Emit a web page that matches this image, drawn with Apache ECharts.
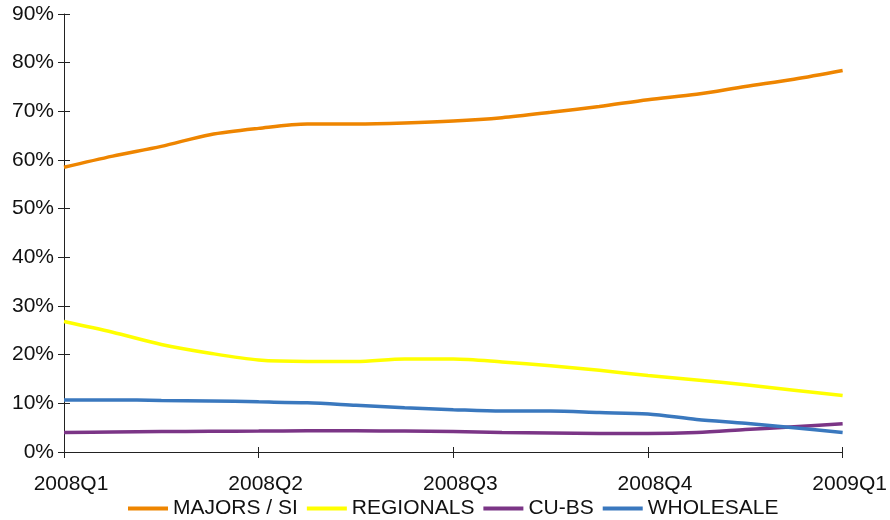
<!DOCTYPE html>
<html>
<head>
<meta charset="utf-8">
<script src="https://cdn.jsdelivr.net/npm/echarts@6/dist/echarts.min.js"></script>
<style>
  html, body { margin: 0; padding: 0; background: #fff; }
  #chart { width: 890px; height: 520px; }
</style>
</head>
<body>
<div id="chart"></div>
<script>
// Sample points: four per quarter, labelled at each quarter start
const categories = [
  '2008Q1', '', '', '',
  '2008Q2', '', '', '',
  '2008Q3', '', '', '',
  '2008Q4', '', '', '',
  '2009Q1'
];
const quarterLabels = ['2008Q1', '2008Q2', '2008Q3', '2008Q4', '2009Q1'];

// Share of total (%)
const majorsSi  = [58.5, 60.8, 62.8, 65.2, 66.5, 67.4, 67.4, 67.6, 68.0, 68.7, 69.8, 71.0, 72.4, 73.5, 75.1, 76.6, 78.4];
const regionals = [26.8, 24.6, 22.1, 20.3, 18.9, 18.6, 18.6, 19.1, 19.1, 18.5, 17.7, 16.8, 15.7, 14.8, 13.8, 12.7, 11.6];
const cuBs      = [4.0, 4.1, 4.2, 4.25, 4.3, 4.35, 4.35, 4.3, 4.2, 4.0, 3.9, 3.8, 3.8, 4.0, 4.6, 5.2, 5.8];
const wholesale = [10.7, 10.7, 10.6, 10.5, 10.3, 10.1, 9.6, 9.1, 8.7, 8.4, 8.4, 8.1, 7.8, 6.7, 5.9, 5.0, 4.0];

const seriesNames = ['MAJORS / SI', 'REGIONALS', 'CU-BS', 'WHOLESALE'];
const seriesColors = ['#EE8500', '#FFFF00', '#7B3586', '#3A78BE'];
const seriesData = [majorsSi, regionals, cuBs, wholesale];

const axisColor = '#222';
const textColor = '#111';
const fontFamily = 'Liberation Sans, Arial, sans-serif';
const fontSize = 21;

const isQuarter = (i) => i % 4 === 0;

const chart = echarts.init(document.getElementById('chart'));
chart.setOption({
  animation: false,
  backgroundColor: '#fff',
  grid: { left: 64, right: 43, top: 14, bottom: 68, containLabel: false },
  legend: {
    top: 493,
    left: 123,
    itemWidth: 40,
    itemHeight: 4,
    itemGap: 9,
    icon: 'rect',
    textStyle: { fontSize: fontSize, color: textColor, fontFamily: fontFamily },
    data: seriesNames
  },
  xAxis: [
    {
      type: 'category',
      data: categories,
      boundaryGap: false,
      axisLine: { lineStyle: { color: axisColor, width: 1 } },
      axisTick: { show: true, inside: false, length: 6, interval: (i) => isQuarter(i), lineStyle: { color: axisColor } },
      axisLabel: {
        interval: (i) => isQuarter(i),
        color: textColor,
        fontSize: fontSize,
        fontFamily: fontFamily,
        margin: 22,
        padding: [0, 0, 0, 14],
        formatter: (v, i) => quarterLabels[i / 4] || ''
      },
      splitLine: { show: false }
    },
    {
      type: 'category',
      data: categories,
      boundaryGap: false,
      position: 'bottom',
      axisLine: { show: false },
      axisTick: { show: true, inside: true, length: 5, interval: (i) => isQuarter(i), lineStyle: { color: axisColor } },
      axisLabel: { show: false },
      splitLine: { show: false }
    }
  ],
  yAxis: [
    {
      type: 'value',
      min: 0,
      max: 90,
      interval: 10,
      axisLine: { show: true, lineStyle: { color: axisColor, width: 1 } },
      axisTick: { show: true, inside: false, length: 6, lineStyle: { color: axisColor } },
      axisLabel: { color: textColor, fontSize: fontSize, fontFamily: fontFamily, margin: 10, formatter: '{value}%' },
      splitLine: { show: false }
    },
    {
      type: 'value',
      min: 0,
      max: 90,
      interval: 10,
      position: 'left',
      axisLine: { show: false },
      axisTick: { show: true, inside: true, length: 6, lineStyle: { color: axisColor } },
      axisLabel: { show: false },
      splitLine: { show: false }
    }
  ],
  series: seriesNames.map((name, k) => ({
    name: name,
    type: 'line',
    data: seriesData[k],
    smooth: 0.3,
    showSymbol: false,
    symbol: 'none',
    color: seriesColors[k],
    lineStyle: { color: seriesColors[k], width: 3.5 },
    z: 2 + k
  }))
});
</script>
</body>
</html>
